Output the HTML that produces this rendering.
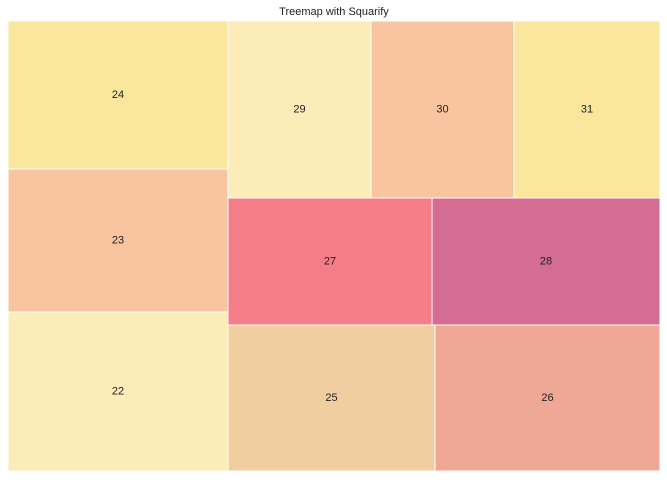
<!DOCTYPE html>
<html><head><meta charset="utf-8"><style>
body{margin:0;background:#fff;font-family:"Liberation Sans",sans-serif}
</style></head><body>
<svg id="chart" width="667" height="478" xmlns="http://www.w3.org/2000/svg">
<rect width="667" height="478" fill="#fff"/>
<text x="334" y="15" text-anchor="middle" font-size="11" fill="#222">Treemap with Squarify</text>
<g id="tiles"></g>
</svg>
<script>
const labels = ["22","23","24","25","26","27","28","29","30","31"];
const values = [34980,31460,32560,30222,32850,25908,28956,25311,25311,25842];
const colors = ["#fcedb8","#f9c4a0","#fae79d","#f0cea0","#efa895","#f57d8a","#d56c93","#fcedb8","#f9c4a0","#fae79d"];

const PX0=8, PY1=471, PW=652, PH=450, N=100;
function layoutRects(sz,x,y,dx,dy){
  const cov=sz.reduce((a,b)=>a+b,0);const out=[];
  if(dx>=dy){const w=cov/dy;let yy=y;for(const s of sz){const h=s/w;out.push({x:x,y:yy,dx:w,dy:h});yy+=h;}}
  else{const h=cov/dx;let xx=x;for(const s of sz){const w=s/h;out.push({x:xx,y:y,dx:w,dy:h});xx+=w;}}
  return out;
}
function leftover(sz,x,y,dx,dy){
  const cov=sz.reduce((a,b)=>a+b,0);
  if(dx>=dy){const w=cov/dy;return [x+w,y,dx-w,dy];}
  const h=cov/dx;return [x,y+h,dx,dy-h];
}
function worst(sz,x,y,dx,dy){
  return Math.max(...layoutRects(sz,x,y,dx,dy).map(r=>Math.max(r.dx/r.dy,r.dy/r.dx)));
}
function squarify(sz,x,y,dx,dy){
  if(!sz.length)return [];
  if(sz.length===1)return layoutRects(sz,x,y,dx,dy);
  let i=1;
  while(i<sz.length&&worst(sz.slice(0,i),x,y,dx,dy)>=worst(sz.slice(0,i+1),x,y,dx,dy))i++;
  const cur=sz.slice(0,i),rem=sz.slice(i);
  return layoutRects(cur,x,y,dx,dy).concat(squarify(rem,...leftover(cur,x,y,dx,dy)));
}
const total=values.reduce((a,b)=>a+b,0);
const norm=values.map(v=>v*N*N/total);
const rects=squarify(norm,0,0,N,N);
const g=document.getElementById('tiles');
const NS="http://www.w3.org/2000/svg";
rects.forEach((r,i)=>{
  const px=PX0+r.x*PW/N, pw=r.dx*PW/N, ph=r.dy*PH/N, py=PY1-(r.y+r.dy)*PH/N;
  const rc=document.createElementNS(NS,'rect');
  
  
  rc.setAttribute('x',px);rc.setAttribute('y',py);rc.setAttribute('width',pw);rc.setAttribute('height',ph);
  rc.setAttribute('fill',colors[i]);rc.setAttribute('stroke','#fff');rc.setAttribute('stroke-width','1');
  g.appendChild(rc);
  const t=document.createElementNS(NS,'text');
  
  
  t.setAttribute('x',px+pw/2);t.setAttribute('y',py+ph/2+3);
  t.setAttribute('text-anchor','middle');t.setAttribute('font-size','11');t.setAttribute('fill','#222');
  t.textContent=labels[i];
  g.appendChild(t);
});
</script>
</body></html>
